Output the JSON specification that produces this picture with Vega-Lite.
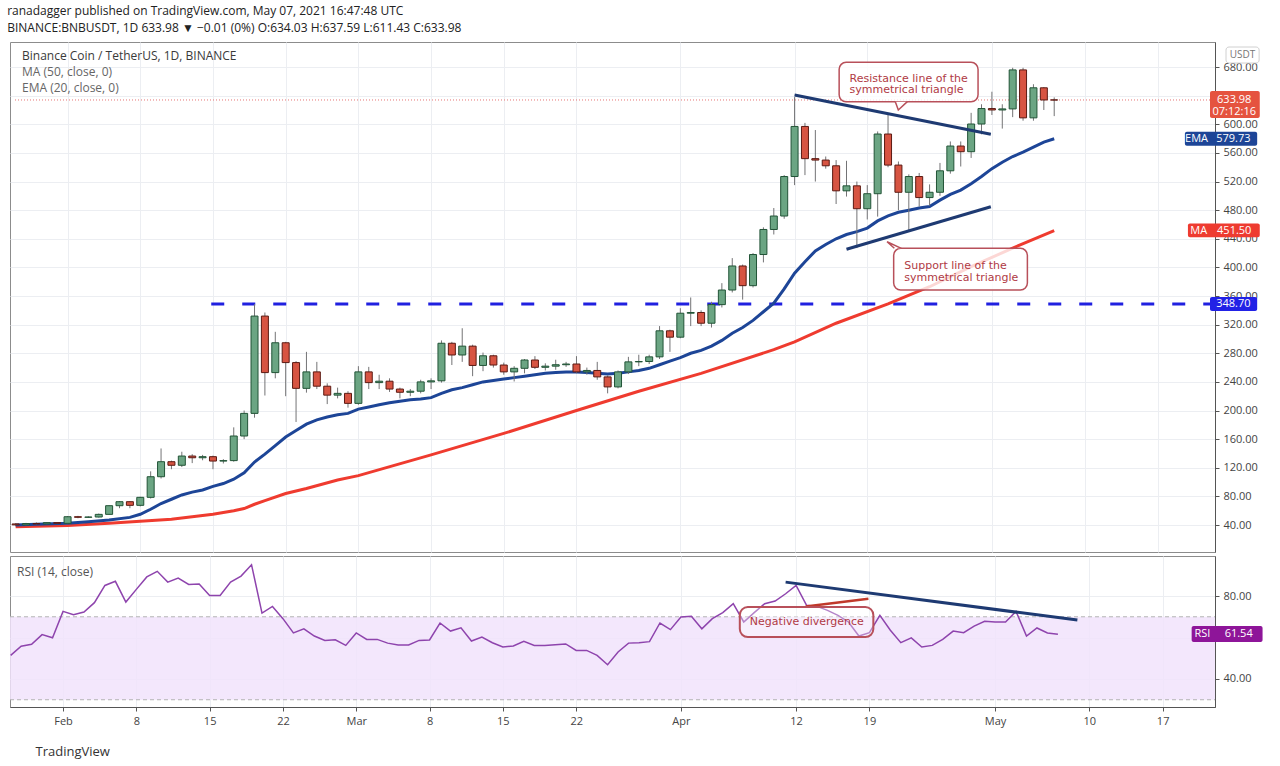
{
  "$schema": "https://vega.github.io/schema/vega-lite/v6.json",
  "background": "white",
  "padding": {"left": 7, "top": 4, "right": 0, "bottom": 0},
  "title": {
    "text": "ranadagger published on TradingView.com, May 07, 2021 16:47:48 UTC",
    "subtitle": "BINANCE:BNBUSDT, 1D 633.98 ▼ −0.01 (0%) O:634.03 H:637.59 L:611.43 C:633.98",
    "anchor": "start", "frame": "bounds",
    "font": "Open Sans", "fontSize": 12, "fontWeight": "normal", "color": "#222",
    "subtitleFont": "Open Sans", "subtitleFontSize": 12, "subtitleColor": "#222", "subtitlePadding": 5,
    "offset": 7
  },
  "spacing": 2,
  "datasets": {
    "candles": [
      {"date":"2021-01-27","open":41.5,"high":42.6,"low":38.5,"close":40.2},
      {"date":"2021-01-28","open":40.2,"high":43.0,"low":39.6,"close":42.0},
      {"date":"2021-01-29","open":42.0,"high":43.6,"low":40.6,"close":41.6},
      {"date":"2021-01-30","open":41.6,"high":43.8,"low":41.0,"close":43.3},
      {"date":"2021-01-31","open":43.3,"high":43.8,"low":41.6,"close":42.4},
      {"date":"2021-02-01","open":42.4,"high":52.5,"low":41.9,"close":51.6},
      {"date":"2021-02-02","open":51.6,"high":52.8,"low":49.5,"close":50.8},
      {"date":"2021-02-03","open":50.8,"high":52.2,"low":49.8,"close":51.2},
      {"date":"2021-02-04","open":51.2,"high":56.0,"low":50.4,"close":54.9},
      {"date":"2021-02-05","open":54.9,"high":67.5,"low":54.5,"close":67.0},
      {"date":"2021-02-06","open":67.0,"high":73.5,"low":63.5,"close":72.6},
      {"date":"2021-02-07","open":72.6,"high":73.0,"low":63.5,"close":67.5},
      {"date":"2021-02-08","open":67.5,"high":79.5,"low":66.0,"close":78.7},
      {"date":"2021-02-09","open":78.7,"high":115,"low":77,"close":107.5},
      {"date":"2021-02-10","open":107.5,"high":147,"low":105,"close":128.5},
      {"date":"2021-02-11","open":128.5,"high":130,"low":118,"close":123.5},
      {"date":"2021-02-12","open":123.5,"high":142.4,"low":121,"close":136.4},
      {"date":"2021-02-13","open":136.4,"high":139,"low":126.5,"close":134},
      {"date":"2021-02-14","open":134,"high":138,"low":130.5,"close":135.5},
      {"date":"2021-02-15","open":135.5,"high":137,"low":118,"close":129.4},
      {"date":"2021-02-16","open":129.4,"high":132,"low":126,"close":130},
      {"date":"2021-02-17","open":130,"high":176.5,"low":128.5,"close":164.4},
      {"date":"2021-02-18","open":164.4,"high":200,"low":160,"close":196},
      {"date":"2021-02-19","open":196,"high":348.7,"low":190,"close":332},
      {"date":"2021-02-20","open":332,"high":337,"low":221,"close":253},
      {"date":"2021-02-21","open":253,"high":310,"low":245,"close":294.7},
      {"date":"2021-02-22","open":294.7,"high":296,"low":220,"close":267},
      {"date":"2021-02-23","open":267,"high":269,"low":184,"close":231},
      {"date":"2021-02-24","open":231,"high":282,"low":225,"close":254},
      {"date":"2021-02-25","open":254,"high":268,"low":230,"close":234},
      {"date":"2021-02-26","open":234,"high":238,"low":209,"close":221.5},
      {"date":"2021-02-27","open":221.5,"high":232,"low":217,"close":224},
      {"date":"2021-02-28","open":224,"high":227,"low":204,"close":210},
      {"date":"2021-03-01","open":210,"high":262,"low":208,"close":254},
      {"date":"2021-03-02","open":254,"high":261,"low":230,"close":239},
      {"date":"2021-03-03","open":239,"high":250,"low":230,"close":241},
      {"date":"2021-03-04","open":241,"high":245,"low":226,"close":230},
      {"date":"2021-03-05","open":230,"high":232,"low":217,"close":225.5},
      {"date":"2021-03-06","open":225.5,"high":230,"low":220,"close":227},
      {"date":"2021-03-07","open":227,"high":243,"low":224,"close":240},
      {"date":"2021-03-08","open":240,"high":245,"low":230,"close":241.5},
      {"date":"2021-03-09","open":241.5,"high":298,"low":239,"close":294},
      {"date":"2021-03-10","open":294,"high":296,"low":263.6,"close":277.6},
      {"date":"2021-03-11","open":277.6,"high":315,"low":268,"close":290},
      {"date":"2021-03-12","open":290,"high":292,"low":248,"close":263},
      {"date":"2021-03-13","open":263,"high":281,"low":255,"close":276.5},
      {"date":"2021-03-14","open":276.5,"high":278,"low":260,"close":263.6},
      {"date":"2021-03-15","open":263.6,"high":267,"low":250,"close":254},
      {"date":"2021-03-16","open":254,"high":262,"low":240.6,"close":259},
      {"date":"2021-03-17","open":259,"high":272,"low":252,"close":270.6},
      {"date":"2021-03-18","open":270.6,"high":276,"low":258,"close":260.4},
      {"date":"2021-03-19","open":260.4,"high":266,"low":256,"close":262},
      {"date":"2021-03-20","open":262,"high":271,"low":257,"close":264},
      {"date":"2021-03-21","open":264,"high":268,"low":261,"close":265},
      {"date":"2021-03-22","open":265,"high":276,"low":252,"close":254},
      {"date":"2021-03-23","open":254,"high":260,"low":250,"close":256},
      {"date":"2021-03-24","open":256,"high":268,"low":243,"close":247},
      {"date":"2021-03-25","open":247,"high":249,"low":224,"close":233},
      {"date":"2021-03-26","open":233,"high":256,"low":231,"close":254},
      {"date":"2021-03-27","open":254,"high":275,"low":251,"close":268},
      {"date":"2021-03-28","open":268,"high":278,"low":262,"close":268.5},
      {"date":"2021-03-29","open":268.5,"high":278,"low":265,"close":275},
      {"date":"2021-03-30","open":275,"high":318,"low":272,"close":311.4},
      {"date":"2021-03-31","open":311.4,"high":313,"low":282,"close":302.5},
      {"date":"2021-04-01","open":302.5,"high":343,"low":301,"close":336},
      {"date":"2021-04-02","open":336,"high":358,"low":318,"close":337},
      {"date":"2021-04-03","open":337,"high":340,"low":318,"close":322},
      {"date":"2021-04-04","open":322,"high":352,"low":316,"close":348},
      {"date":"2021-04-05","open":348,"high":378,"low":344,"close":368.4},
      {"date":"2021-04-06","open":368.4,"high":413,"low":365,"close":402},
      {"date":"2021-04-07","open":402,"high":404,"low":355,"close":374.5},
      {"date":"2021-04-08","open":374.5,"high":420,"low":372,"close":418},
      {"date":"2021-04-09","open":418,"high":456,"low":407,"close":453},
      {"date":"2021-04-10","open":453,"high":483,"low":446,"close":471.8},
      {"date":"2021-04-11","open":471.8,"high":529,"low":468,"close":527},
      {"date":"2021-04-12","open":527,"high":638,"low":515,"close":597},
      {"date":"2021-04-13","open":597,"high":602,"low":529,"close":552},
      {"date":"2021-04-14","open":552,"high":592,"low":520,"close":550},
      {"date":"2021-04-15","open":550,"high":555,"low":538,"close":542},
      {"date":"2021-04-16","open":542,"high":550,"low":488.6,"close":507},
      {"date":"2021-04-17","open":507,"high":549,"low":499,"close":514},
      {"date":"2021-04-18","open":514,"high":520,"low":427,"close":482},
      {"date":"2021-04-19","open":482,"high":515,"low":467,"close":503},
      {"date":"2021-04-20","open":503,"high":590,"low":471,"close":586.4},
      {"date":"2021-04-21","open":586.4,"high":615,"low":540,"close":543},
      {"date":"2021-04-22","open":543,"high":548,"low":480,"close":505},
      {"date":"2021-04-23","open":505,"high":530,"low":450,"close":527},
      {"date":"2021-04-24","open":527,"high":532,"low":485,"close":497.6},
      {"date":"2021-04-25","open":497.6,"high":516,"low":486,"close":505},
      {"date":"2021-04-26","open":505,"high":546,"low":500,"close":535},
      {"date":"2021-04-27","open":535,"high":576,"low":531,"close":569.6},
      {"date":"2021-04-28","open":569.6,"high":576,"low":541,"close":561.7},
      {"date":"2021-04-29","open":561.7,"high":616,"low":553,"close":600.4},
      {"date":"2021-04-30","open":600.4,"high":628,"low":586,"close":622},
      {"date":"2021-05-01","open":622,"high":645.5,"low":613,"close":620},
      {"date":"2021-05-02","open":620,"high":628,"low":594,"close":621.5},
      {"date":"2021-05-03","open":621.5,"high":679,"low":610,"close":676},
      {"date":"2021-05-04","open":676,"high":679,"low":605,"close":609},
      {"date":"2021-05-05","open":609,"high":656,"low":605,"close":651},
      {"date":"2021-05-06","open":651,"high":652,"low":620,"close":634},
      {"date":"2021-05-07","open":634.03,"high":637.59,"low":611.43,"close":633.98}
    ],
    "ema": [
      {"date":"2021-01-27","price":40.2},{"date":"2021-01-29","price":41.0},{"date":"2021-02-01","price":42.4},
      {"date":"2021-02-03","price":44.5},{"date":"2021-02-05","price":47.0},{"date":"2021-02-07","price":50.7},
      {"date":"2021-02-08","price":55.0},{"date":"2021-02-09","price":62.0},{"date":"2021-02-10","price":70.0},
      {"date":"2021-02-11","price":76.0},{"date":"2021-02-12","price":82.0},{"date":"2021-02-13","price":86.0},
      {"date":"2021-02-14","price":89.0},{"date":"2021-02-15","price":94.0},{"date":"2021-02-16","price":98.0},
      {"date":"2021-02-17","price":104.0},{"date":"2021-02-18","price":113.0},{"date":"2021-02-19","price":128.0},
      {"date":"2021-02-20","price":139.0},{"date":"2021-02-21","price":151.0},{"date":"2021-02-22","price":163.0},
      {"date":"2021-02-23","price":172.0},{"date":"2021-02-24","price":181.0},{"date":"2021-02-25","price":187.0},
      {"date":"2021-02-26","price":191.0},{"date":"2021-02-27","price":194.0},{"date":"2021-02-28","price":196.0},
      {"date":"2021-03-01","price":202.0},{"date":"2021-03-02","price":205.0},{"date":"2021-03-03","price":208.0},
      {"date":"2021-03-04","price":211.0},{"date":"2021-03-05","price":213.0},{"date":"2021-03-06","price":215.0},
      {"date":"2021-03-07","price":216.0},{"date":"2021-03-08","price":218.0},{"date":"2021-03-09","price":224.0},
      {"date":"2021-03-10","price":229.0},{"date":"2021-03-11","price":232.0},{"date":"2021-03-12","price":236.0},
      {"date":"2021-03-13","price":240.0},{"date":"2021-03-14","price":242.0},{"date":"2021-03-15","price":244.0},
      {"date":"2021-03-16","price":246.0},{"date":"2021-03-17","price":248.0},{"date":"2021-03-18","price":250.0},
      {"date":"2021-03-19","price":252.0},{"date":"2021-03-20","price":253.0},{"date":"2021-03-21","price":254.0},
      {"date":"2021-03-22","price":254.0},{"date":"2021-03-23","price":253.0},{"date":"2021-03-24","price":252.0},
      {"date":"2021-03-25","price":251.0},{"date":"2021-03-26","price":252.0},{"date":"2021-03-27","price":254.0},
      {"date":"2021-03-28","price":256.0},{"date":"2021-03-29","price":259.0},{"date":"2021-03-30","price":264.0},
      {"date":"2021-03-31","price":269.0},{"date":"2021-04-01","price":274.0},{"date":"2021-04-02","price":280.0},
      {"date":"2021-04-03","price":284.0},{"date":"2021-04-04","price":290.0},{"date":"2021-04-05","price":298.0},
      {"date":"2021-04-06","price":308.0},{"date":"2021-04-07","price":316.0},{"date":"2021-04-08","price":326.0},
      {"date":"2021-04-09","price":338.0},{"date":"2021-04-10","price":350.0},{"date":"2021-04-11","price":370.0},
      {"date":"2021-04-12","price":392.0},{"date":"2021-04-13","price":408.0},{"date":"2021-04-14","price":423.0},
      {"date":"2021-04-15","price":432.0},{"date":"2021-04-16","price":440.0},{"date":"2021-04-17","price":446.0},
      {"date":"2021-04-18","price":450.0},{"date":"2021-04-19","price":455.0},{"date":"2021-04-20","price":465.0},
      {"date":"2021-04-21","price":472.0},{"date":"2021-04-22","price":477.0},{"date":"2021-04-23","price":480.0},
      {"date":"2021-04-24","price":483.0},{"date":"2021-04-25","price":485.0},{"date":"2021-04-26","price":494.0},
      {"date":"2021-04-27","price":502.0},{"date":"2021-04-28","price":508.0},{"date":"2021-04-29","price":517.0},
      {"date":"2021-04-30","price":527.0},{"date":"2021-05-01","price":538.0},{"date":"2021-05-02","price":547.0},
      {"date":"2021-05-03","price":555.0},{"date":"2021-05-04","price":561.0},{"date":"2021-05-05","price":568.0},
      {"date":"2021-05-06","price":575.0},{"date":"2021-05-07","price":579.73}
    ],
    "ma": [
      {"date":"2021-01-27","price":37.7},{"date":"2021-02-01","price":39.5},{"date":"2021-02-05","price":42.4},
      {"date":"2021-02-11","price":48.0},{"date":"2021-02-15","price":55.0},{"date":"2021-02-17","price":60.0},
      {"date":"2021-02-18","price":63.0},{"date":"2021-02-19","price":69.0},{"date":"2021-02-20","price":74.0},
      {"date":"2021-02-22","price":84.0},{"date":"2021-02-24","price":91.0},{"date":"2021-02-27","price":103.0},
      {"date":"2021-03-01","price":109.0},{"date":"2021-03-08","price":138.0},{"date":"2021-03-15","price":168.0},
      {"date":"2021-03-22","price":200.0},{"date":"2021-03-28","price":227.0},{"date":"2021-04-03","price":252.0},
      {"date":"2021-04-10","price":285.0},{"date":"2021-04-12","price":296.0},{"date":"2021-04-16","price":322.0},
      {"date":"2021-04-21","price":349.0},{"date":"2021-04-25","price":373.0},{"date":"2021-04-29","price":401.0},
      {"date":"2021-05-03","price":427.0},{"date":"2021-05-07","price":451.5}
    ],
    "rsi": [
      {"date":"2021-01-27","rsi":51.4},{"date":"2021-01-28","rsi":55.8},{"date":"2021-01-29","rsi":56.7},
      {"date":"2021-01-30","rsi":61.4},{"date":"2021-01-31","rsi":59.9},{"date":"2021-02-01","rsi":72.6},
      {"date":"2021-02-02","rsi":71.0},{"date":"2021-02-03","rsi":72.3},{"date":"2021-02-04","rsi":76.8},
      {"date":"2021-02-05","rsi":85.1},{"date":"2021-02-06","rsi":87.1},{"date":"2021-02-07","rsi":77.1},
      {"date":"2021-02-08","rsi":83.2},{"date":"2021-02-09","rsi":89.2},{"date":"2021-02-10","rsi":91.9},
      {"date":"2021-02-11","rsi":86.7},{"date":"2021-02-12","rsi":88.7},{"date":"2021-02-13","rsi":85.6},
      {"date":"2021-02-14","rsi":85.8},{"date":"2021-02-15","rsi":80.3},{"date":"2021-02-16","rsi":80.3},
      {"date":"2021-02-17","rsi":86.7},{"date":"2021-02-18","rsi":89.6},{"date":"2021-02-19","rsi":95.1},
      {"date":"2021-02-20","rsi":71.8},{"date":"2021-02-21","rsi":75.0},{"date":"2021-02-22","rsi":69.1},
      {"date":"2021-02-23","rsi":62.2},{"date":"2021-02-24","rsi":64.2},{"date":"2021-02-25","rsi":60.7},
      {"date":"2021-02-26","rsi":58.6},{"date":"2021-02-27","rsi":58.9},{"date":"2021-02-28","rsi":56.2},
      {"date":"2021-03-01","rsi":62.2},{"date":"2021-03-02","rsi":59.1},{"date":"2021-03-03","rsi":59.1},
      {"date":"2021-03-04","rsi":57.3},{"date":"2021-03-05","rsi":56.4},{"date":"2021-03-06","rsi":56.4},
      {"date":"2021-03-07","rsi":58.6},{"date":"2021-03-08","rsi":58.8},{"date":"2021-03-09","rsi":67.0},
      {"date":"2021-03-10","rsi":63.1},{"date":"2021-03-11","rsi":64.7},{"date":"2021-03-12","rsi":58.3},
      {"date":"2021-03-13","rsi":60.2},{"date":"2021-03-14","rsi":57.5},{"date":"2021-03-15","rsi":55.4},
      {"date":"2021-03-16","rsi":55.9},{"date":"2021-03-17","rsi":58.2},{"date":"2021-03-18","rsi":56.2},
      {"date":"2021-03-19","rsi":56.2},{"date":"2021-03-20","rsi":56.5},{"date":"2021-03-21","rsi":56.9},
      {"date":"2021-03-22","rsi":53.8},{"date":"2021-03-23","rsi":53.8},{"date":"2021-03-24","rsi":51.4},
      {"date":"2021-03-25","rsi":46.9},{"date":"2021-03-26","rsi":53.0},{"date":"2021-03-27","rsi":57.3},
      {"date":"2021-03-28","rsi":57.5},{"date":"2021-03-29","rsi":58.0},{"date":"2021-03-30","rsi":67.0},
      {"date":"2021-03-31","rsi":63.8},{"date":"2021-04-01","rsi":69.9},{"date":"2021-04-02","rsi":70.2},
      {"date":"2021-04-03","rsi":64.2},{"date":"2021-04-04","rsi":69.1},{"date":"2021-04-05","rsi":72.0},
      {"date":"2021-04-06","rsi":76.3},{"date":"2021-04-07","rsi":67.5},{"date":"2021-04-08","rsi":72.0},
      {"date":"2021-04-09","rsi":76.3},{"date":"2021-04-10","rsi":77.6},{"date":"2021-04-11","rsi":81.1},
      {"date":"2021-04-12","rsi":85.1},{"date":"2021-04-13","rsi":75.5},{"date":"2021-04-14","rsi":75.0},
      {"date":"2021-04-15","rsi":73.1},{"date":"2021-04-16","rsi":70.7},{"date":"2021-04-17","rsi":67.5},
      {"date":"2021-04-18","rsi":60.7},{"date":"2021-04-19","rsi":62.3},{"date":"2021-04-20","rsi":70.7},
      {"date":"2021-04-21","rsi":63.5},{"date":"2021-04-22","rsi":57.5},{"date":"2021-04-23","rsi":59.8},
      {"date":"2021-04-24","rsi":55.4},{"date":"2021-04-25","rsi":56.2},{"date":"2021-04-26","rsi":59.1},
      {"date":"2021-04-27","rsi":63.1},{"date":"2021-04-28","rsi":62.3},{"date":"2021-04-29","rsi":65.5},
      {"date":"2021-04-30","rsi":67.8},{"date":"2021-05-01","rsi":67.5},{"date":"2021-05-02","rsi":67.5},
      {"date":"2021-05-03","rsi":72.6},{"date":"2021-05-04","rsi":60.7},{"date":"2021-05-05","rsi":64.6},
      {"date":"2021-05-06","rsi":62.2},{"date":"2021-05-07","rsi":61.54}
    ],
    "lastline": [{"date":"2021-01-26T22:30:00Z","date2":"2021-05-22T00:00:00Z","price":633.98}],
    "srline": [{"date":"2021-02-14T20:00:00Z","date2":"2021-05-22T00:00:00Z","price":348.7}],
    "trend": [
      {"id":"r","date":"2021-04-12T00:00:00Z","price":641},
      {"id":"r","date":"2021-04-30T21:30:00Z","price":586},
      {"id":"s","date":"2021-04-17T00:00:00Z","price":425.3},
      {"id":"s","date":"2021-04-30T21:30:00Z","price":484.8}
    ],
    "boxes": [
      {"id":"r","date":"2021-04-16T07:00:00Z","date2":"2021-04-29T16:00:00Z","price":686.6,"price2":631.5},
      {"id":"s","date":"2021-04-21T13:00:00Z","date2":"2021-05-04T10:00:00Z","price":426.7,"price2":368.4}
    ],
    "pointers": [
      {"id":"r","date":"2021-04-22T06:40:00Z","price":625.8},
      {"id":"s","date":"2021-04-21T12:15:00Z","price":431.3}
    ],
    "callouts": [
      {"date":"2021-04-17T07:00:00Z","price":671.9,"t":"Resistance line of the\nsymmetrical triangle"},
      {"date":"2021-04-22T13:30:00Z","price":409.9,"t":"Support line of the\nsymmetrical triangle"}
    ],
    "legend1": [{"date":"2021-01-27T14:40:00Z","price":695.4,"t":"Binance Coin / TetherUS, 1D, BINANCE"}],
    "legend2": [
      {"date":"2021-01-27T14:40:00Z","price":673.0,"t":"MA (50, close, 0)"},
      {"date":"2021-01-27T14:40:00Z","price":650.7,"t":"EMA (20, close, 0)"}
    ],
    "tags": [
      {"key":"last","date":"2021-05-22T00:00:00Z","date2":"2021-05-26T19:00:00Z","price":646.5,"price2":608.8},
      {"key":"ema","date":"2021-05-19T14:00:00Z","date2":"2021-05-26T13:00:00Z","price":589.5,"price2":570},
      {"key":"ma","date":"2021-05-19T21:00:00Z","date2":"2021-05-26T19:00:00Z","price":461.5,"price2":442},
      {"key":"sr","date":"2021-05-22T00:00:00Z","date2":"2021-05-26T13:00:00Z","price":358.5,"price2":339}
    ],
    "tagtext": [
      {"date":"2021-05-24T08:00:00Z","price":634.5,"t":"633.98"},
      {"date":"2021-05-24T08:00:00Z","price":617,"t":"07:12:16"},
      {"date":"2021-05-20T17:00:00Z","price":579.73,"t":"EMA"},
      {"date":"2021-05-24T06:00:00Z","price":579.73,"t":"579.73"},
      {"date":"2021-05-20T22:00:00Z","price":451.5,"t":"MA"},
      {"date":"2021-05-24T08:00:00Z","price":451.5,"t":"451.50"},
      {"date":"2021-05-24T06:00:00Z","price":348.7,"t":"348.70"}
    ],
    "usdtbox": [{"date":"2021-05-23T13:00:00Z","date2":"2021-05-26T17:30:00Z","price":708,"price2":685.6}],
    "usdttext": [{"date":"2021-05-25T03:00:00Z","price":696.8,"t":"USDT"}],
    "band": [{"date":"2021-01-26T22:30:00Z","date2":"2021-05-22T00:00:00Z","rsi":70,"rsi2":30}],
    "bandlines": [
      {"date":"2021-01-26T22:30:00Z","date2":"2021-05-22T00:00:00Z","rsi":70},
      {"date":"2021-01-26T22:30:00Z","date2":"2021-05-22T00:00:00Z","rsi":30}
    ],
    "divblue": [{"date":"2021-04-11T00:00:00Z","rsi":86.7},{"date":"2021-05-08T20:40:00Z","rsi":68.4}],
    "divred": [{"date":"2021-04-12T22:00:00Z","rsi":75},{"date":"2021-04-18T21:40:00Z","rsi":78.7}],
    "negbox": [{"date":"2021-04-06T15:00:00Z","date2":"2021-04-19T09:00:00Z","rsi":74.7,"rsi2":60.2}],
    "negtext": [{"date":"2021-04-07T14:00:00Z","rsi":67.7,"t":"Negative divergence"}],
    "rsilabel": [{"date":"2021-01-27T14:40:00Z","rsi":91.6,"t":"RSI (14, close)"}],
    "rsitag": [{"date":"2021-05-19T18:30:00Z","date2":"2021-05-26T13:00:00Z","rsi":65.5,"rsi2":57.8}],
    "rsitagtext": [
      {"date":"2021-05-20T19:00:00Z","rsi":61.54,"t":"RSI"},
      {"date":"2021-05-24T06:15:00Z","rsi":61.54,"t":"61.54"}
    ]
  },
  "vconcat": [
    {
      "width": 1205,
      "height": 510,
      "encoding": {
        "x": {
          "field": "date", "type": "temporal",
          "scale": {"type": "utc", "domain": [{"year":2021,"month":1,"date":26,"hours":22,"minutes":30,"utc":true},{"year":2021,"month":5,"date":22,"utc":true}]},
          "axis": {
            "values": [
              {"year":2021,"month":2,"date":1,"utc":true},{"year":2021,"month":2,"date":8,"utc":true},
              {"year":2021,"month":2,"date":15,"utc":true},{"year":2021,"month":2,"date":22,"utc":true},
              {"year":2021,"month":3,"date":1,"utc":true},{"year":2021,"month":3,"date":8,"utc":true},
              {"year":2021,"month":3,"date":15,"utc":true},{"year":2021,"month":3,"date":22,"utc":true},
              {"year":2021,"month":4,"date":1,"utc":true},{"year":2021,"month":4,"date":12,"utc":true},
              {"year":2021,"month":4,"date":19,"utc":true},{"year":2021,"month":5,"date":1,"utc":true},
              {"year":2021,"month":5,"date":10,"utc":true},{"year":2021,"month":5,"date":17,"utc":true}
            ],
            "tickCount": 40,
            "labels": false, "ticks": false, "domain": false, "grid": true, "gridColor": "#eceef2"
          },
          "title": null
        }
      },
      "layer": [
        {
          "data": {"name": "lastline"},
          "mark": {"type": "rule", "color": "#e57373", "strokeDash": [1, 2], "strokeWidth": 1},
          "encoding": {
            "x2": {"field": "date2"},
            "y": {
              "field": "price", "type": "quantitative",
              "scale": {"domain": [2.3, 715], "nice": false, "zero": false},
              "axis": {
                "orient": "right",
                "values": [40,80,120,160,200,240,280,320,360,400,440,480,520,560,600,640,680],
                "tickCount": 40,
                "labelOverlap": false,
                "format": ".2f", "grid": true, "gridColor": "#eceef2",
                "tickSize": 4, "labelPadding": 4, "domainColor": "#555", "tickColor": "#555",
                "labelColor": "#444", "labelFontSize": 11, "labelFont": "Open Sans"
              },
              "title": null
            }
          }
        },
        {
          "data": {"name": "srline"},
          "mark": {"type": "rule", "color": "#2020e0", "strokeWidth": 3, "strokeDash": [13, 18]},
          "encoding": {"x2": {"field": "date2"}, "y": {"field": "price", "type": "quantitative", "title": null}}
        },
        {
          "data": {"name": "ma"},
          "mark": {"type": "line", "color": "#ef3b2f", "strokeWidth": 3},
          "encoding": {"y": {"field": "price", "type": "quantitative", "title": null}}
        },
        {
          "data": {"name": "ema"},
          "mark": {"type": "line", "color": "#1d4597", "strokeWidth": 3},
          "encoding": {"y": {"field": "price", "type": "quantitative", "title": null}}
        },
        {
          "data": {"name": "candles"},
          "mark": {"type": "rule", "color": "#737375", "strokeWidth": 1},
          "encoding": {"y": {"field": "low", "type": "quantitative", "title": null}, "y2": {"field": "high"}}
        },
        {
          "data": {"name": "candles"},
          "mark": {"type": "bar", "size": 7, "strokeWidth": 1},
          "encoding": {
            "y": {"field": "open", "type": "quantitative", "title": null},
            "y2": {"field": "close"},
            "fill": {"condition": {"test": "datum.close >= datum.open", "value": "#6ba583"}, "value": "#d75442"},
            "stroke": {"condition": {"test": "datum.close >= datum.open", "value": "#225437"}, "value": "#5b1a13"}
          }
        },
        {
          "data": {"name": "trend"},
          "mark": {"type": "line", "color": "#1e3a72", "strokeWidth": 3},
          "encoding": {"y": {"field": "price", "type": "quantitative", "title": null}, "detail": {"field": "id"}}
        },
        {
          "data": {"name": "boxes"},
          "mark": {"type": "rect", "fill": "white", "fillOpacity": 0.8, "stroke": "#b8505a", "strokeWidth": 1.5, "cornerRadius": 7},
          "encoding": {"x2": {"field": "date2"}, "y": {"field": "price", "type": "quantitative", "title": null}, "y2": {"field": "price2"}}
        },
        {
          "data": {"name": "pointers"},
          "mark": {"type": "point", "filled": true, "fill": "white", "stroke": "#b8505a", "strokeWidth": 1.5, "size": 400, "opacity": 1},
          "encoding": {
            "y": {"field": "price", "type": "quantitative", "title": null},
            "shape": {"field": "id", "type": "nominal", "scale": {"domain": ["r", "s"], "range": ["M-0.6,-0.42L-0.3,0.42L0.6,-0.42", "M0.1,0.33L-0.63,-0.33L0.8,0.33"]}, "legend": null}
          }
        },
        {
          "data": {"name": "callouts"},
          "mark": {"type": "text", "align": "left", "baseline": "top", "font": "DejaVu Sans", "fontSize": 11, "lineHeight": 11.5, "lineBreak": "\n", "color": "#b03a44"},
          "encoding": {"y": {"field": "price", "type": "quantitative", "title": null}, "text": {"field": "t"}}
        },
        {
          "data": {"name": "legend1"},
          "mark": {"type": "text", "align": "left", "baseline": "middle", "font": "Open Sans", "fontSize": 12, "color": "#3a3a3a"},
          "encoding": {"y": {"field": "price", "type": "quantitative", "title": null}, "text": {"field": "t"}}
        },
        {
          "data": {"name": "legend2"},
          "mark": {"type": "text", "align": "left", "baseline": "middle", "font": "Open Sans", "fontSize": 12, "color": "#666"},
          "encoding": {"y": {"field": "price", "type": "quantitative", "title": null}, "text": {"field": "t"}}
        },
        {
          "data": {"name": "tags"},
          "mark": {"type": "rect", "cornerRadius": 2},
          "encoding": {
            "x2": {"field": "date2"},
            "y": {"field": "price", "type": "quantitative", "title": null},
            "y2": {"field": "price2"},
            "fill": {"field": "key", "type": "nominal", "scale": {"domain": ["last", "ema", "ma", "sr"], "range": ["#e5533f", "#1d4597", "#ee3b30", "#2222e6"]}, "legend": null}
          }
        },
        {
          "data": {"name": "tagtext"},
          "mark": {"type": "text", "align": "center", "baseline": "middle", "font": "Open Sans", "fontSize": 11, "color": "white"},
          "encoding": {"y": {"field": "price", "type": "quantitative", "title": null}, "text": {"field": "t"}}
        },
        {
          "data": {"name": "usdtbox"},
          "mark": {"type": "rect", "fill": "white", "stroke": "#d0d0d0", "strokeWidth": 1, "cornerRadius": 3},
          "encoding": {"x2": {"field": "date2"}, "y": {"field": "price", "type": "quantitative", "title": null}, "y2": {"field": "price2"}}
        },
        {
          "data": {"name": "usdttext"},
          "mark": {"type": "text", "align": "center", "baseline": "middle", "font": "Open Sans", "fontSize": 10, "color": "#777"},
          "encoding": {"y": {"field": "price", "type": "quantitative", "title": null}, "text": {"field": "t"}}
        }
      ]
    },
    {
      "width": 1205,
      "height": 151,
      "encoding": {
        "x": {
          "field": "date", "type": "temporal",
          "scale": {"type": "utc", "domain": [{"year":2021,"month":1,"date":26,"hours":22,"minutes":30,"utc":true},{"year":2021,"month":5,"date":22,"utc":true}]},
          "axis": {
            "values": [
              {"year":2021,"month":2,"date":1,"utc":true},{"year":2021,"month":2,"date":8,"utc":true},
              {"year":2021,"month":2,"date":15,"utc":true},{"year":2021,"month":2,"date":22,"utc":true},
              {"year":2021,"month":3,"date":1,"utc":true},{"year":2021,"month":3,"date":8,"utc":true},
              {"year":2021,"month":3,"date":15,"utc":true},{"year":2021,"month":3,"date":22,"utc":true},
              {"year":2021,"month":4,"date":1,"utc":true},{"year":2021,"month":4,"date":12,"utc":true},
              {"year":2021,"month":4,"date":19,"utc":true},{"year":2021,"month":5,"date":1,"utc":true},
              {"year":2021,"month":5,"date":10,"utc":true},{"year":2021,"month":5,"date":17,"utc":true}
            ],
            "tickCount": 40,
            "labelExpr": "utcFormat(datum.value, '%d') == '01' ? utcFormat(datum.value, '%b') : utcFormat(datum.value, '%-d')",
            "labelOverlap": false,
            "grid": true, "gridColor": "#eceef2", "tickSize": 4, "labelPadding": 4,
            "labelColor": "#444", "labelFontSize": 11, "labelFont": "Open Sans",
            "domainColor": "#555", "tickColor": "#555",
            "title": "TradingView", "titleAnchor": "start", "titleAlign": "left", "titleBaseline": "middle",
            "titleX": 25, "titleY": 44, "titleFontSize": 13, "titleFontWeight": "normal", "titleColor": "#333", "titleFont": "Open Sans"
          }
        }
      },
      "layer": [
        {
          "data": {"name": "band"},
          "mark": {"type": "rect", "fill": "#f1e3fb", "opacity": 0.85},
          "encoding": {
            "x2": {"field": "date2"},
            "y": {
              "field": "rsi", "type": "quantitative",
              "scale": {"domain": [26.5, 99.3], "nice": false, "zero": false},
              "axis": {
                "orient": "right", "values": [40, 60, 80], "tickCount": 10, "format": ".2f", "grid": true, "gridColor": "#eceef2",
                "labelOverlap": false,
                "tickSize": 4, "labelPadding": 4, "domainColor": "#555", "tickColor": "#555",
                "labelColor": "#444", "labelFontSize": 11, "labelFont": "Open Sans"
              },
              "title": null
            },
            "y2": {"field": "rsi2"}
          }
        },
        {
          "data": {"name": "bandlines"},
          "mark": {"type": "rule", "color": "#b4b4b4", "strokeDash": [4, 3], "strokeWidth": 1},
          "encoding": {"x2": {"field": "date2"}, "y": {"field": "rsi", "type": "quantitative", "title": null}}
        },
        {
          "data": {"name": "rsi"},
          "mark": {"type": "line", "color": "#8e44ad", "strokeWidth": 1.5},
          "encoding": {"y": {"field": "rsi", "type": "quantitative", "title": null}}
        },
        {
          "data": {"name": "divblue"},
          "mark": {"type": "line", "color": "#1e3a72", "strokeWidth": 3},
          "encoding": {"y": {"field": "rsi", "type": "quantitative", "title": null}}
        },
        {
          "data": {"name": "divred"},
          "mark": {"type": "line", "color": "#c0392b", "strokeWidth": 2.5},
          "encoding": {"y": {"field": "rsi", "type": "quantitative", "title": null}}
        },
        {
          "data": {"name": "negbox"},
          "mark": {"type": "rect", "fill": "white", "fillOpacity": 0.35, "stroke": "#b8505a", "strokeWidth": 2, "cornerRadius": 8},
          "encoding": {"x2": {"field": "date2"}, "y": {"field": "rsi", "type": "quantitative", "title": null}, "y2": {"field": "rsi2"}}
        },
        {
          "data": {"name": "negtext"},
          "mark": {"type": "text", "align": "left", "baseline": "middle", "font": "DejaVu Sans", "fontSize": 11, "color": "#b03a44"},
          "encoding": {"y": {"field": "rsi", "type": "quantitative", "title": null}, "text": {"field": "t"}}
        },
        {
          "data": {"name": "rsilabel"},
          "mark": {"type": "text", "align": "left", "baseline": "middle", "font": "Open Sans", "fontSize": 12, "color": "#555"},
          "encoding": {"y": {"field": "rsi", "type": "quantitative", "title": null}, "text": {"field": "t"}}
        },
        {
          "data": {"name": "rsitag"},
          "mark": {"type": "rect", "fill": "#8e1599", "cornerRadius": 2},
          "encoding": {"x2": {"field": "date2"}, "y": {"field": "rsi", "type": "quantitative", "title": null}, "y2": {"field": "rsi2"}}
        },
        {
          "data": {"name": "rsitagtext"},
          "mark": {"type": "text", "align": "center", "baseline": "middle", "font": "Open Sans", "fontSize": 11, "color": "white"},
          "encoding": {"y": {"field": "rsi", "type": "quantitative", "title": null}, "text": {"field": "t"}}
        }
      ]
    }
  ],
  "config": {
    "view": {"stroke": "#8c8c8c", "strokeWidth": 1},
    "font": "Open Sans",
    "axis": {"labelFont": "Open Sans", "gridWidth": 1}
  }
}
